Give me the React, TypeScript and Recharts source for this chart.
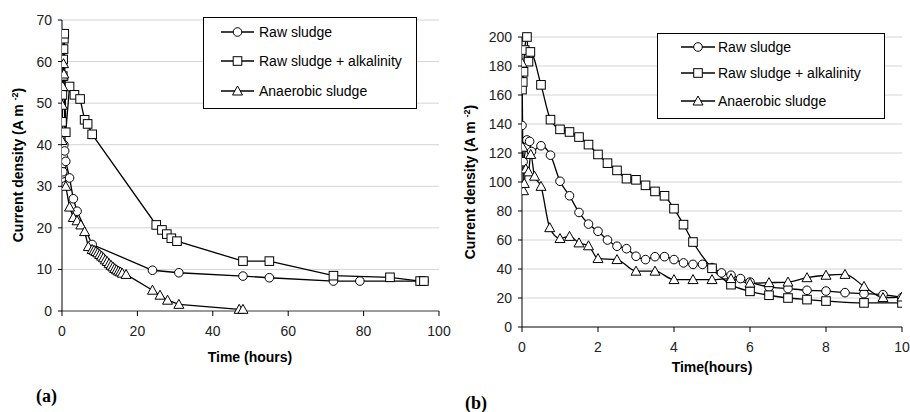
import { LineChart, Line, XAxis, YAxis, CartesianGrid } from 'recharts'

// (a) time in hours, current density in A m-2
const aRawTime = [0, 0.1, 0.2, 0.3, 0.4, 0.5, 0.7, 1, 2, 3, 4, 8, 24, 31, 48, 55, 72, 79, 95, 96]
const aRawCurrent = [32, 33, 33.5, 35.5, 37, 40, 38.5, 36, 32, 27, 24, 16, 9.8, 9.2, 8.4, 8, 7.2, 7.2, 7.2, 7.2]

const aAlkTime = [0, 0.1, 0.2, 0.3, 0.4, 0.5, 0.6, 1, 2, 3.3, 4.8, 6, 6.8, 8, 25, 26.5, 27.8, 29, 30.5, 48, 55, 72, 87, 95, 96]
const aAlkCurrent = [45.5, 52, 56.5, 60.5, 63, 65.5, 66.7, 43, 54, 52, 51, 46, 45, 42.5, 20.7, 19.5, 18.5, 17.5, 16.8, 12, 12, 8.5, 8.1, 7.2, 7.2]

const aAnaTime = [0, 0.1, 0.2, 0.3, 0.4, 0.5, 1, 2, 3, 4, 5, 6, 7, 8, 8.5, 9, 9.5, 10, 10.5, 11, 11.5, 12, 12.5, 13, 13.5, 14, 14.5, 15, 15.5, 16, 17, 24, 26, 28, 31, 47, 48]
const aAnaCurrent = [41, 49.5, 54, 56.5, 59.5, 57, 30, 25, 22.5, 21.7, 20.7, 19.1, 15.5, 14.8, 14.6, 14.3, 14, 13.6, 13.2, 12.8, 12.3, 11.9, 11.4, 11, 10.6, 10.2, 9.9, 9.6, 9.4, 9.1, 8.8, 5, 3.8, 2.6, 1.6, 0.4, 0.4]

// (b)
const bRawTime = [0, 0.03, 0.1, 0.13, 0.2, 0.25, 0.5, 0.75, 1, 1.25, 1.5, 1.75, 2, 2.25, 2.5, 2.75, 3, 3.25, 3.5, 3.75, 4, 4.25, 4.5, 4.75, 5, 5.25, 5.5, 5.75, 6, 6.5, 7, 7.5, 8, 8.5, 9, 9.5, 10]
const bRawCurrent = [139, 114, 124, 129, 128, 121, 125, 118.5, 100.5, 90.5, 79, 71, 66, 60, 55.7, 54, 48.8, 46.5, 48.5, 48.5, 46.5, 44.2, 43.2, 43.2, 41, 37.3, 35.7, 33.4, 31, 27.6, 26.5, 25.3, 24.8, 23.7, 23, 22.3, 20.3]

const bAlkTime = [0, 0.02, 0.04, 0.07, 0.13, 0.17, 0.22, 0.5, 0.75, 1, 1.25, 1.5, 1.75, 2, 2.25, 2.5, 2.75, 3, 3.25, 3.5, 3.75, 4, 4.25, 4.5, 5, 5.5, 6, 6.5, 7, 7.5, 8, 9, 10]
const bAlkCurrent = [163.7, 169, 176, 191, 200, 183, 189.7, 167, 143, 136.3, 134.5, 131, 125.8, 119, 113, 108, 102.3, 101.5, 97.7, 93.5, 90.5, 81.6, 70.6, 58.6, 40.5, 29.2, 24.6, 21.9, 20, 18.9, 17.9, 16.6, 16.6]

const bAnaTime = [0, 0.02, 0.04, 0.06, 0.1, 0.17, 0.23, 0.33, 0.5, 0.73, 1, 1.25, 1.5, 1.75, 2, 2.5, 3, 3.5, 4, 4.5, 5, 5.5, 6, 6.5, 7, 7.5, 8, 8.5, 9, 9.5, 10]
const bAnaCurrent = [182, 124, 94, 99, 109, 107, 119, 104, 97, 68.5, 61, 62.5, 58, 56, 47.2, 46.5, 38.5, 38.5, 32.7, 32.7, 32.7, 33.4, 30.3, 30.6, 31, 34, 35.7, 36.3, 28, 20.3, 20.7]

const aXTicks = [0, 20, 40, 60, 80, 100]
const aYTicks = [0, 10, 20, 30, 40, 50, 60, 70]
const bXTicks = [0, 2, 4, 6, 8, 10]
const bYTicks = [0, 20, 40, 60, 80, 100, 120, 140, 160, 180, 200]

const seriesNames = ['Raw  sludge', 'Raw  sludge + alkalinity', 'Anaerobic sludge']

const zip = (t: number[], v: number[]) => t.map((x, i) => ({ x, y: v[i] }))

const FONT = '"Liberation Sans", Arial, sans-serif'

type Shape = 'circle' | 'square' | 'triangle'

function marker(shape: Shape, cx: number, cy: number, key?: string | number) {
  if (shape === 'circle') {
    return <circle key={key} cx={cx} cy={cy} r={4.3} fill="#fff" stroke="#000" strokeWidth={1} />
  }
  if (shape === 'square') {
    return <rect key={key} x={cx - 4.3} y={cy - 4.3} width={8.6} height={8.6} fill="#fff" stroke="#000" strokeWidth={1} />
  }
  return (
    <path
      key={key}
      d={`M${cx},${cy - 5} L${cx + 5},${cy + 4} L${cx - 5},${cy + 4} Z`}
      fill="#fff"
      stroke="#000"
      strokeWidth={1}
    />
  )
}

const dotFor = (shape: Shape) => (p: any) => marker(shape, p.cx, p.cy, `${shape}-${p.index}`)

const shapes: Shape[] = ['circle', 'square', 'triangle']

function LegendBox({ left, top, width, height, rows, lineX1, lineX2, textX }: any) {
  return (
    <svg
      style={{ position: 'absolute', left, top, overflow: 'visible' }}
      width={width}
      height={height}
    >
      <rect x={0.5} y={0.5} width={width - 1} height={height - 1} fill="#fff" stroke="#000" strokeWidth={1} />
      {seriesNames.map((name, i) => (
        <g key={name}>
          <line x1={lineX1} x2={lineX2} y1={rows[i]} y2={rows[i]} stroke="#000" strokeWidth={1.3} />
          {marker(shapes[i], (lineX1 + lineX2) / 2, rows[i])}
          <text x={textX} y={rows[i]} dy="0.35em" fontSize={14} fontFamily={FONT} fill="#000">
            {name}
          </text>
        </g>
      ))}
    </svg>
  )
}

function YTitle({ cx, cy }: { cx: number; cy: number }) {
  return (
    <div
      style={{
        position: 'absolute',
        left: cx,
        top: cy,
        transform: 'translate(-50%, -50%) rotate(-90deg)',
        whiteSpace: 'nowrap',
        fontFamily: FONT,
        fontWeight: 'bold',
        fontSize: 14,
        color: '#000',
      }}
    >
      Current density (A m <sup style={{ fontSize: 9 }}>-2</sup>)
    </div>
  )
}

function XTitle({ cx, top, text }: { cx: number; top: number; text: string }) {
  return (
    <div
      style={{
        position: 'absolute',
        left: cx,
        top,
        transform: 'translateX(-50%)',
        whiteSpace: 'nowrap',
        fontFamily: FONT,
        fontWeight: 'bold',
        fontSize: 14,
        color: '#000',
      }}
    >
      {text}
    </div>
  )
}

function PanelLabel({ left, top, text }: { left: number; top: number; text: string }) {
  return (
    <div
      style={{
        position: 'absolute',
        left,
        top,
        fontFamily: '"Liberation Serif", "Times New Roman", serif',
        fontWeight: 'bold',
        fontSize: 18,
        color: '#000',
      }}
    >
      {text}
    </div>
  )
}

const tickStyle = { fill: '#222', fontSize: 14, fontFamily: FONT }

function Panel({ width, height, margin, yWidth, xDomain, xTicks, yDomain, yTicks, series, xAxisWidth, curve }: any) {
  return (
    <LineChart width={width} height={height} margin={margin}>
      <CartesianGrid horizontal vertical={false} stroke="#d4d4d4" strokeWidth={1} />
      <XAxis
        type="number"
        dataKey="x"
        domain={xDomain}
        ticks={xTicks}
        allowDataOverflow
        interval={0}
        tick={tickStyle}
        tickSize={5}
        tickMargin={10}
        axisLine={{ stroke: '#808080', strokeWidth: xAxisWidth }}
        tickLine={{ stroke: '#000' }}
        height={30}
      />
      <YAxis
        type="number"
        dataKey="y"
        domain={yDomain}
        ticks={yTicks}
        interval={0}
        tick={tickStyle}
        tickSize={4}
        tickMargin={6}
        axisLine={{ stroke: '#000' }}
        tickLine={{ stroke: '#000' }}
        width={yWidth}
      />
      {series.map((s: any, i: number) => (
        <Line
          key={i}
          data={s}
          dataKey="y"
          type={curve}
          stroke="#000"
          strokeWidth={1.3}
          dot={dotFor(shapes[i])}
          activeDot={false}
          isAnimationActive={false}
        />
      ))}
    </LineChart>
  )
}

export default function App() {
  const aSeries = [zip(aRawTime, aRawCurrent), zip(aAlkTime, aAlkCurrent), zip(aAnaTime, aAnaCurrent)]
  const bSeries = [zip(bRawTime, bRawCurrent), zip(bAlkTime, bAlkCurrent), zip(bAnaTime, bAnaCurrent)]

  return (
    <div style={{ position: 'absolute', left: 0, top: 0, width: 910, height: 412, background: '#fff', overflow: 'hidden' }}>
      <div style={{ position: 'absolute', left: 0, top: 0 }}>
        <Panel
          width={460}
          height={412}
          margin={{ top: 20, right: 21, bottom: 71, left: 0 }}
          yWidth={62}
          xDomain={[0, 100]}
          xTicks={aXTicks}
          yDomain={[0, 70]}
          yTicks={aYTicks}
          series={aSeries}
          xAxisWidth={1.5}
          curve="linear"
        />
      </div>
      <div style={{ position: 'absolute', left: 440, top: 0 }}>
        <Panel
          width={470}
          height={412}
          margin={{ top: 37, right: 8, bottom: 55, left: 0 }}
          yWidth={82}
          xDomain={[0, 10]}
          xTicks={bXTicks}
          yDomain={[0, 200]}
          yTicks={bYTicks}
          series={bSeries}
          xAxisWidth={2}
          curve="monotone"
        />
      </div>

      <LegendBox left={203} top={17} width={214} height={92} rows={[15, 44, 74]} lineX1={18} lineX2={51} textX={56} />
      <LegendBox left={657} top={33} width={228} height={86} rows={[14, 40, 68]} lineX1={24} lineX2={58} textX={61} />

      <YTitle cx={18} cy={165} />
      <YTitle cx={470} cy={182} />
      <XTitle cx={250} top={349} text="Time (hours)" />
      <XTitle cx={712} top={359} text="Time(hours)" />
      <PanelLabel left={36} top={386} text="(a)" />
      <PanelLabel left={465} top={393} text="(b)" />
    </div>
  )
}
